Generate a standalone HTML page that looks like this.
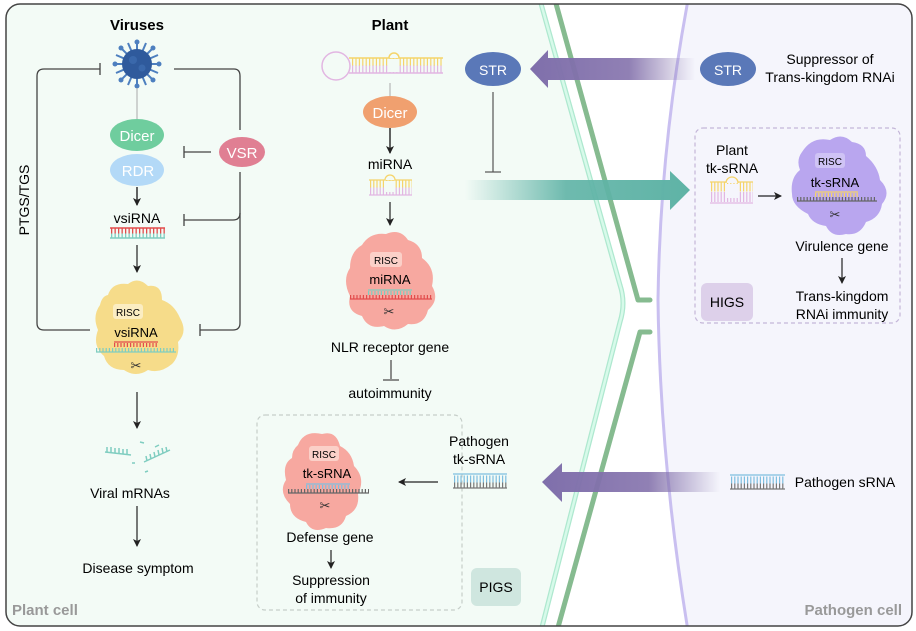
<!DOCTYPE html>
<html><head><meta charset="utf-8"><style>
html,body{margin:0;padding:0;background:#fff;}
svg{display:block;font-family:"Liberation Sans",Arial,sans-serif;}
</style></head><body>
<svg width="916" height="631" viewBox="0 0 916 631" xmlns="http://www.w3.org/2000/svg">
<defs>
<linearGradient id="gTeal" x1="0" x2="1"><stop offset="0" stop-color="#5fb3a6" stop-opacity="0"/><stop offset="0.45" stop-color="#5fb3a6" stop-opacity="0.9"/><stop offset="1" stop-color="#5fb3a6"/></linearGradient>
<linearGradient id="gPur" x1="1" x2="0"><stop offset="0" stop-color="#8472ac" stop-opacity="0"/><stop offset="0.4" stop-color="#8472ac" stop-opacity="0.9"/><stop offset="1" stop-color="#7f6fab"/></linearGradient>
<clipPath id="frame"><rect x="6" y="4" width="906" height="622" rx="14"/></clipPath>
<marker id="ah" markerWidth="8" markerHeight="8" refX="7" refY="4" orient="auto" markerUnits="userSpaceOnUse"><path d="M0,0 L8,4 L0,8 L2,4 Z" fill="#222"/></marker>
</defs>
<g clip-path="url(#frame)">
<rect x="0" y="0" width="916" height="631" fill="#ffffff"/>
<!-- plant cell fill -->
<path d="M0,0 L540,0 Q585,150 623,290 Q628,305 620,330 L541,631 L0,631 Z" fill="#f3fbf6"/>
<!-- pathogen fill -->
<path d="M688,0 Q660,150 658,300 Q660,460 688,631 L916,631 L916,0 Z" fill="#f5f5fc"/>
<!-- membrane purple -->
<path d="M688,0 Q660,150 658,300 Q660,460 688,631" fill="none" stroke="#c9bff0" stroke-width="3"/>
<!-- mint wall -->
<path d="M540,0 L620,285 Q626,303 620,322 L541,631" fill="none" stroke="#aee8cf" stroke-width="5"/>
<path d="M540,0 L620,285 Q626,303 620,322 L541,631" fill="none" stroke="#d7faea" stroke-width="2.5"/>
<!-- dark green wall -->
<path d="M555,0 L638,300 L650,300" fill="none" stroke="#86bb90" stroke-width="5" stroke-linecap="round" stroke-linejoin="round"/>
<path d="M650,332 L640,332 L557,631" fill="none" stroke="#86bb90" stroke-width="5" stroke-linecap="round" stroke-linejoin="round"/>
</g>
<rect x="6" y="4" width="906" height="622" rx="14" fill="none" stroke="#444" stroke-width="1.5"/>

<!-- Headers -->
<text x="137" y="30" font-size="15" font-weight="bold" text-anchor="middle">Viruses</text>
<text x="390" y="30" font-size="15" font-weight="bold" text-anchor="middle">Plant</text>

<!-- PTGS/TGS loop -->
<g fill="none" stroke="#444" stroke-width="1.3">
<path d="M100,69 L44,69 Q37,69 37,76 L37,323 Q37,330 44,330 L90,330"/>
<path d="M100,63 L100,75"/>
<path d="M174,69 L234,69 Q240,69 240,76 L240,130"/>
<path d="M240,172 L240,323 Q240,330 233,330 L200,330"/>
<path d="M200,324 L200,336"/>
<path d="M240,213 Q240,220 233,220 L184,220"/>
<path d="M184,214 L184,226"/>
<path d="M211,152 L184,152"/>
<path d="M184,146 L184,158"/>
</g>
<text transform="translate(29,200) rotate(-90)" font-size="14" text-anchor="middle">PTGS/TGS</text>

<!-- virus -->
<g>
<g stroke="#4d7fbf" stroke-width="2">
<line x1="137" y1="64" x2="137" y2="42"/><line x1="137" y1="64" x2="137" y2="86"/>
<line x1="137" y1="64" x2="115" y2="64"/><line x1="137" y1="64" x2="159" y2="64"/>
<line x1="137" y1="64" x2="121" y2="48"/><line x1="137" y1="64" x2="153" y2="80"/>
<line x1="137" y1="64" x2="153" y2="48"/><line x1="137" y1="64" x2="121" y2="80"/>
<line x1="137" y1="64" x2="128" y2="43"/><line x1="137" y1="64" x2="146" y2="85"/>
<line x1="137" y1="64" x2="146" y2="43"/><line x1="137" y1="64" x2="128" y2="85"/>
<line x1="137" y1="64" x2="116" y2="55"/><line x1="137" y1="64" x2="158" y2="73"/>
<line x1="137" y1="64" x2="158" y2="55"/><line x1="137" y1="64" x2="116" y2="73"/>
</g>
<g fill="#4d7fbf">
<circle cx="137" cy="42" r="2.5"/><circle cx="137" cy="86" r="2.5"/><circle cx="115" cy="64" r="2.5"/><circle cx="159" cy="64" r="2.5"/>
<circle cx="121" cy="48" r="2.5"/><circle cx="153" cy="80" r="2.5"/><circle cx="153" cy="48" r="2.5"/><circle cx="121" cy="80" r="2.5"/>
</g>
<circle cx="137" cy="64" r="15" fill="#2f5a9c"/>
<circle cx="133" cy="60" r="4" fill="#3a68ab"/><circle cx="142" cy="68" r="3.5" fill="#3a68ab"/>
</g>
<line x1="137" y1="88" x2="137" y2="120" stroke="#aaa" stroke-width="1"/>

<!-- Dicer / RDR -->
<ellipse cx="137" cy="135" rx="27" ry="16" fill="#6fcd9e"/>
<text x="137" y="141" font-size="15" fill="#fff" text-anchor="middle">Dicer</text>
<ellipse cx="137" cy="170" rx="27" ry="16" fill="#b3d9f7"/>
<text x="138" y="176" font-size="15" fill="#fff" text-anchor="middle">RDR</text>
<ellipse cx="242" cy="152" rx="23" ry="15" fill="#e07f93"/>
<text x="242" y="158" font-size="15" fill="#fff" text-anchor="middle">VSR</text>
<line x1="137" y1="187" x2="137" y2="205" stroke="#222" stroke-width="1.4" marker-end="url(#ah)"/>
<text x="137" y="223" font-size="14" text-anchor="middle">vsiRNA</text>
<line x1="110" y1="228" x2="165" y2="228" stroke="#e24c4c" stroke-width="1.5"/>
<line x1="111" y1="231" x2="165" y2="231" stroke="#e24c4c" stroke-width="5" stroke-dasharray="1.3,2.2"/>
<line x1="111" y1="236" x2="165" y2="236" stroke="#7fcdc0" stroke-width="5" stroke-dasharray="1.3,2.2"/>
<line x1="110" y1="238" x2="165" y2="238" stroke="#7fcdc0" stroke-width="1.5"/>
<line x1="137" y1="245" x2="137" y2="272" stroke="#222" stroke-width="1.2" marker-end="url(#ah)"/>

<!-- Yellow RISC -->
<path d="M108,295 Q112,282 128,284 Q138,276 148,286 Q162,284 162,300 Q174,304 180,318 Q188,332 178,342 Q180,356 172,364 Q160,374 148,370 Q136,378 124,370 Q108,370 104,356 Q92,346 98,330 Q92,316 100,305 Q102,296 108,295 Z" fill="#f6dc8a"/>
<rect x="113" y="304" width="30" height="15" rx="3" fill="#fbedc2"/>
<text x="128" y="316" font-size="10" text-anchor="middle">RISC</text>
<text x="136" y="337" font-size="13" text-anchor="middle">vsiRNA</text>
<line x1="114" y1="342" x2="158" y2="342" stroke="#e24c4c" stroke-width="1.3"/>
<line x1="114" y1="345" x2="158" y2="345" stroke="#e24c4c" stroke-width="4" stroke-dasharray="1.2,2"/>
<line x1="96" y1="350" x2="176" y2="350" stroke="#7fcdc0" stroke-width="4" stroke-dasharray="1.2,2"/>
<line x1="96" y1="352" x2="176" y2="352" stroke="#7fcdc0" stroke-width="1.3"/>
<text x="136" y="370" font-size="13" text-anchor="middle" fill="#333">✂</text>
<line x1="137" y1="392" x2="137" y2="428" stroke="#222" stroke-width="1.2" marker-end="url(#ah)"/>
<!-- fragments -->
<g stroke="#7fcdc0" stroke-width="1.5" fill="none">
<path d="M105,452 L131,455"/><path d="M107,452 l0,-5 M111,452 l0,-5 M115,453 l0,-5 M119,453 l0,-5 M123,454 l0,-5 M127,454 l0,-5"/>
<path d="M144,462 L170,450"/><path d="M147,461 l-1,-5 M151,459 l-1,-5 M155,457 l-1,-5 M159,455 l-1,-5 M163,453 l-1,-5 M167,452 l-1,-5"/>
<path d="M140,442 l4,1 M155,447 l4,-2 M132,463 l3,0 M145,472 l3,-1"/>
</g>
<text x="130" y="498" font-size="14" text-anchor="middle">Viral mRNAs</text>
<line x1="137" y1="506" x2="137" y2="546" stroke="#222" stroke-width="1.2" marker-end="url(#ah)"/>
<text x="138" y="573" font-size="14" text-anchor="middle">Disease symptom</text>
<text x="12" y="615" font-size="15" font-weight="bold" fill="#999">Plant cell</text>
<text x="902" y="615" font-size="15" font-weight="bold" fill="#999" text-anchor="end">Pathogen cell</text>

<!-- Plant pathway -->
<circle cx="336" cy="66" r="14" fill="none" stroke="#e2b6e2" stroke-width="1.5"/>
<line x1="349" y1="58" x2="443" y2="58" stroke="#f5d46a" stroke-width="1.5"/>
<line x1="349" y1="73" x2="443" y2="73" stroke="#e2b6e2" stroke-width="1.5"/>
<line x1="352" y1="62" x2="443" y2="62" stroke="#f5d46a" stroke-width="8" stroke-dasharray="1.2,2.2"/>
<line x1="352" y1="69" x2="443" y2="69" stroke="#e2b6e2" stroke-width="7" stroke-dasharray="1.2,2.2"/>
<path d="M389,58 A5,5 0 0 1 399,58" fill="#f3fbf6" stroke="#f5d46a" stroke-width="1.5"/>
<rect x="389" y="59" width="10" height="13" fill="#f3fbf6"/>
<line x1="390" y1="83" x2="390" y2="98" stroke="#aaa" stroke-width="1"/>
<ellipse cx="390" cy="112" rx="27" ry="16" fill="#f0a06f"/>
<text x="390" y="118" font-size="15" fill="#fff" text-anchor="middle">Dicer</text>
<line x1="390" y1="128" x2="390" y2="153" stroke="#222" stroke-width="1.4" marker-end="url(#ah)"/>
<text x="390" y="169" font-size="14" text-anchor="middle">miRNA</text>
<line x1="369" y1="180" x2="412" y2="180" stroke="#f5d46a" stroke-width="1.3"/>
<line x1="369" y1="195" x2="412" y2="195" stroke="#e2b6e2" stroke-width="1.3"/>
<line x1="370" y1="184" x2="412" y2="184" stroke="#f5d46a" stroke-width="7" stroke-dasharray="1.2,2"/>
<line x1="370" y1="191" x2="412" y2="191" stroke="#e2b6e2" stroke-width="7" stroke-dasharray="1.2,2"/>
<path d="M385,180 A5,5 0 0 1 395,180" fill="#f3fbf6" stroke="#f5d46a" stroke-width="1.3"/>
<rect x="385" y="181" width="10" height="11" fill="#f3fbf6"/>
<line x1="390" y1="202" x2="390" y2="225" stroke="#222" stroke-width="1.2" marker-end="url(#ah)"/>
<!-- red RISC -->
<path d="M362,245 Q370,232 386,234 Q400,228 408,240 Q422,244 422,258 Q436,268 432,286 Q440,300 428,310 Q424,326 408,324 Q396,334 384,326 Q368,330 362,316 Q346,312 350,296 Q342,280 350,268 Q350,252 362,245 Z" fill="#f7a8a0"/>
<rect x="370" y="252" width="32" height="15" rx="3" fill="#fbd0c8"/>
<text x="386" y="264" font-size="10" text-anchor="middle">RISC</text>
<text x="390" y="284" font-size="13" text-anchor="middle">miRNA</text>
<line x1="368" y1="290" x2="412" y2="290" stroke="#7fcdc0" stroke-width="1.3"/>
<line x1="368" y1="293" x2="412" y2="293" stroke="#7fcdc0" stroke-width="4" stroke-dasharray="1.2,2"/>
<line x1="350" y1="297" x2="432" y2="297" stroke="#e24c4c" stroke-width="4" stroke-dasharray="1.2,2"/>
<line x1="350" y1="299" x2="432" y2="299" stroke="#e24c4c" stroke-width="1.3"/>
<text x="389" y="316" font-size="13" text-anchor="middle" fill="#333">✂</text>
<text x="390" y="352" font-size="14" text-anchor="middle">NLR receptor gene</text>
<line x1="391" y1="360" x2="391" y2="379" stroke="#444" stroke-width="1.2"/>
<line x1="383" y1="380" x2="399" y2="380" stroke="#444" stroke-width="1.2"/>
<text x="390" y="398" font-size="14" text-anchor="middle">autoimmunity</text>

<!-- STR arrows -->
<path d="M695,58 L548,58 L548,50 L530,69 L548,88 L548,80 L695,80 Z" fill="url(#gPur)"/>
<ellipse cx="493" cy="69" rx="28" ry="17" fill="#5a78b8"/>
<text x="493" y="75" font-size="14" fill="#fff" text-anchor="middle">STR</text>
<ellipse cx="728" cy="69" rx="28" ry="17" fill="#5a78b8"/>
<text x="728" y="75" font-size="14" fill="#fff" text-anchor="middle">STR</text>
<text x="830" y="64" font-size="14" text-anchor="middle">Suppressor of</text>
<text x="830" y="82" font-size="14" text-anchor="middle">Trans-kingdom RNAi</text>
<line x1="493" y1="92" x2="493" y2="172" stroke="#555" stroke-width="1.2"/>
<line x1="485" y1="172" x2="501" y2="172" stroke="#555" stroke-width="1.2"/>
<!-- teal arrow -->
<path d="M465,180 L670,180 L670,171 L690,190 L670,210 L670,200 L465,200 Z" fill="url(#gTeal)"/>

<!-- HIGS box -->
<rect x="695" y="128" width="205" height="195" rx="8" fill="none" stroke="#c4b6d8" stroke-width="1.2" stroke-dasharray="4,3"/>
<text x="732" y="155" font-size="14" text-anchor="middle">Plant</text>
<text x="732" y="173" font-size="14" text-anchor="middle">tk-sRNA</text>
<line x1="710" y1="182" x2="753" y2="182" stroke="#f5d46a" stroke-width="1.3"/>
<line x1="710" y1="203" x2="753" y2="203" stroke="#e2b6e2" stroke-width="1.3"/>
<line x1="711" y1="187" x2="753" y2="187" stroke="#f5d46a" stroke-width="9" stroke-dasharray="1.2,2"/>
<line x1="711" y1="197" x2="753" y2="197" stroke="#e2b6e2" stroke-width="10" stroke-dasharray="1.2,2"/>
<path d="M726,183 A6,6 0 0 1 738,183" fill="#f5f5fc" stroke="#f5d46a" stroke-width="1.3"/>
<rect x="726" y="184" width="12" height="14" fill="#f5f5fc"/>
<line x1="758" y1="196" x2="781" y2="196" stroke="#222" stroke-width="1.2" marker-end="url(#ah)"/>
<!-- purple RISC -->
<path d="M802,152 Q812,136 830,140 Q842,132 852,142 Q866,144 866,156 Q878,166 880,180 Q892,192 882,204 Q880,218 866,222 Q860,236 846,234 Q832,238 826,226 Q812,224 808,214 Q792,206 792,194 Q790,178 800,170 Q796,160 802,152 Z" fill="#b9a6ef"/>
<rect x="815" y="153" width="30" height="15" rx="3" fill="#cfc3f5"/>
<text x="830" y="165" font-size="10" text-anchor="middle">RISC</text>
<text x="835" y="187" font-size="13" text-anchor="middle">tk-sRNA</text>
<line x1="815" y1="192" x2="858" y2="192" stroke="#f5d46a" stroke-width="1.3"/>
<line x1="815" y1="195" x2="858" y2="195" stroke="#f5d46a" stroke-width="4" stroke-dasharray="1.2,2"/>
<line x1="797" y1="199" x2="877" y2="199" stroke="#666" stroke-width="4" stroke-dasharray="1.2,2"/>
<line x1="797" y1="201" x2="877" y2="201" stroke="#666" stroke-width="1.3"/>
<text x="835" y="219" font-size="13" text-anchor="middle" fill="#333">✂</text>
<text x="842" y="251" font-size="14" text-anchor="middle">Virulence gene</text>
<line x1="842" y1="258" x2="842" y2="283" stroke="#222" stroke-width="1.2" marker-end="url(#ah)"/>
<text x="842" y="301" font-size="14" text-anchor="middle">Trans-kingdom</text>
<text x="842" y="319" font-size="14" text-anchor="middle">RNAi immunity</text>
<rect x="701" y="283" width="52" height="38" rx="6" fill="#ddd0ea"/>
<text x="727" y="307" font-size="14" text-anchor="middle">HIGS</text>

<!-- PIGS box -->
<rect x="257" y="415" width="205" height="195" rx="8" fill="none" stroke="#c6cec9" stroke-width="1.2" stroke-dasharray="4,3"/>
<path d="M298,445 Q304,430 322,434 Q336,430 340,446 Q352,452 354,466 Q366,478 358,494 Q360,510 346,516 Q342,530 326,528 Q312,534 306,522 Q290,518 290,504 Q278,492 286,480 Q282,464 292,458 Q292,450 298,445 Z" fill="#f7a8a0"/>
<rect x="307" y="486" width="0" height="0"/>
<rect x="309" y="446" width="30" height="15" rx="3" fill="#fbd0c8"/>
<text x="324" y="458" font-size="10" text-anchor="middle">RISC</text>
<text x="327" y="478" font-size="13" text-anchor="middle">tk-sRNA</text>
<line x1="306" y1="484" x2="350" y2="484" stroke="#7fbfe0" stroke-width="1.3"/>
<line x1="306" y1="487" x2="350" y2="487" stroke="#7fbfe0" stroke-width="4" stroke-dasharray="1.2,2"/>
<line x1="288" y1="491" x2="369" y2="491" stroke="#666" stroke-width="4" stroke-dasharray="1.2,2"/>
<line x1="288" y1="493" x2="369" y2="493" stroke="#666" stroke-width="1.3"/>
<text x="325" y="510" font-size="13" text-anchor="middle" fill="#333">✂</text>
<line x1="438" y1="482" x2="399" y2="482" stroke="#222" stroke-width="1.2" marker-end="url(#ah)"/>
<text x="479" y="446" font-size="14" text-anchor="middle">Pathogen</text>
<text x="479" y="464" font-size="14" text-anchor="middle">tk-sRNA</text>
<line x1="453" y1="474" x2="507" y2="474" stroke="#7fbfe0" stroke-width="1.3"/>
<line x1="454" y1="479" x2="507" y2="479" stroke="#7fbfe0" stroke-width="7" stroke-dasharray="1.2,2"/>
<line x1="454" y1="485" x2="507" y2="485" stroke="#777" stroke-width="5" stroke-dasharray="1.2,2"/>
<line x1="453" y1="488" x2="507" y2="488" stroke="#777" stroke-width="1.3"/>
<text x="330" y="542" font-size="14" text-anchor="middle">Defense gene</text>
<line x1="331" y1="550" x2="331" y2="568" stroke="#222" stroke-width="1.2" marker-end="url(#ah)"/>
<text x="331" y="585" font-size="14" text-anchor="middle">Suppression</text>
<text x="331" y="603" font-size="14" text-anchor="middle">of immunity</text>
<rect x="471" y="568" width="50" height="38" rx="6" fill="#cfe6df"/>
<text x="496" y="592" font-size="14" text-anchor="middle">PIGS</text>

<!-- pathogen sRNA arrow -->
<path d="M720,472 L562,472 L562,463 L542,482 L562,502 L562,492 L720,492 Z" fill="url(#gPur)"/>
<line x1="730" y1="475" x2="785" y2="475" stroke="#7fbfe0" stroke-width="1.3"/>
<line x1="731" y1="480" x2="785" y2="480" stroke="#7fbfe0" stroke-width="7" stroke-dasharray="1.2,2"/>
<line x1="731" y1="486" x2="785" y2="486" stroke="#777" stroke-width="5" stroke-dasharray="1.2,2"/>
<line x1="730" y1="489" x2="785" y2="489" stroke="#777" stroke-width="1.3"/>
<text x="845" y="487" font-size="14" text-anchor="middle">Pathogen sRNA</text>
</svg>
</body></html>
